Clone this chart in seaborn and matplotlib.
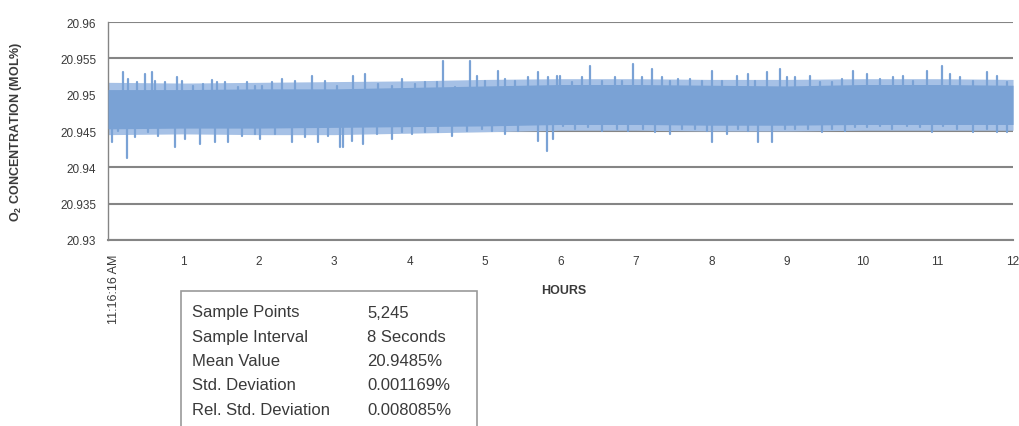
import matplotlib
matplotlib.use("Agg")
import matplotlib.pyplot as plt
import matplotlib.patches as mpatches
import numpy as np
import pandas as pd
import seaborn as sns

# Oxygen concentration record, 12 hours from 11:16:16 AM (8 s sampling)
band_hours = [0, 1, 2, 3, 4, 5, 6, 7, 8, 9, 10, 11, 12]
band_top = [20.9507, 20.9507, 20.9508, 20.9508, 20.9510, 20.9512, 20.9514,
            20.9514, 20.9513, 20.9512, 20.9514, 20.9514, 20.9513]
band_bottom = [20.9453, 20.9454, 20.9454, 20.9455, 20.9456, 20.9457, 20.9459,
               20.9459, 20.9458, 20.9458, 20.9459, 20.9459, 20.9459]
# typical outer reach of the scatter around the core
fringe_top = [20.9517, 20.9516, 20.9517, 20.9518, 20.9519, 20.9521, 20.9522,
              20.9522, 20.9521, 20.9521, 20.9522, 20.9522, 20.9521]
fringe_bottom = [20.9445, 20.9446, 20.9445, 20.9445, 20.9447, 20.9449, 20.9451,
                 20.9451, 20.9450, 20.9450, 20.9451, 20.9451, 20.9451]

peak_hours = [0.20, 0.27, 0.38, 0.49, 0.58, 0.62, 0.76, 0.91, 0.98, 1.13, 1.26,
              1.38, 1.45, 1.55, 1.72, 1.84, 1.95,
              2.04, 2.17, 2.31, 2.48, 2.70, 2.88, 3.04, 3.25, 3.41, 3.58, 3.77, 3.90,
              4.07, 4.20, 4.36, 4.44, 4.60, 4.80, 4.89, 5.00, 5.17, 5.26, 5.40, 5.57,
              5.70, 5.83, 5.95,
              5.99, 6.15, 6.28, 6.39, 6.55, 6.72, 6.82, 6.96, 7.08, 7.21, 7.35, 7.45,
              7.56, 7.72, 7.88,
              8.01, 8.14, 8.34, 8.49, 8.58, 8.74, 8.91, 9.00, 9.11, 9.31, 9.44, 9.60,
              9.73, 9.88,
              10.06, 10.24, 10.41, 10.54, 10.67, 10.86, 11.06, 11.16, 11.30, 11.47,
              11.65, 11.79, 11.92]
peak_values = [20.9531, 20.9522, 20.9517, 20.9528, 20.9531, 20.9519, 20.9517,
               20.9524, 20.9519, 20.9512, 20.9515, 20.9520, 20.9517, 20.9517,
               20.9511, 20.9517, 20.9512,
               20.9512, 20.9517, 20.9522, 20.9519, 20.9526, 20.9519, 20.9512,
               20.9526, 20.9528, 20.9515, 20.9512, 20.9522,
               20.9515, 20.9517, 20.9517, 20.9546, 20.9511, 20.9546, 20.9526,
               20.9519, 20.9533, 20.9522, 20.9519, 20.9524,
               20.9531, 20.9524, 20.9526,
               20.9526, 20.9517, 20.9524, 20.9539, 20.9519, 20.9524, 20.9519,
               20.9542, 20.9524, 20.9535, 20.9524, 20.9519, 20.9522, 20.9522,
               20.9519,
               20.9533, 20.9519, 20.9526, 20.9528, 20.9519, 20.9531, 20.9535,
               20.9524, 20.9524, 20.9526, 20.9517, 20.9517, 20.9522, 20.9533,
               20.9528, 20.9522, 20.9524, 20.9526, 20.9519, 20.9533, 20.9540,
               20.9528, 20.9524, 20.9519, 20.9531, 20.9526, 20.9517]

dip_hours = [0.05, 0.13, 0.25, 0.36, 0.53, 0.66, 0.89, 1.02, 1.22, 1.42, 1.59, 1.78,
             1.95,
             2.02, 2.21, 2.44, 2.61, 2.78, 2.92, 3.08, 3.12, 3.24, 3.38, 3.57, 3.77,
             3.90,
             4.03, 4.20, 4.38, 4.56, 4.76, 4.96, 5.09, 5.26, 5.44, 5.70, 5.82, 5.90,
             6.03, 6.19, 6.36, 6.55, 6.75, 6.89, 7.09, 7.25, 7.45, 7.61, 7.78, 7.94,
             8.01, 8.21, 8.35, 8.49, 8.62, 8.80, 8.98, 9.11, 9.28, 9.47, 9.60, 9.77,
             9.90,
             10.06, 10.24, 10.40, 10.59, 10.77, 10.93, 11.07, 11.26, 11.47, 11.65,
             11.79, 11.92]
dip_values = [20.9435, 20.9450, 20.9413, 20.9442, 20.9449, 20.9443, 20.9428,
              20.9439, 20.9432, 20.9435, 20.9435, 20.9443, 20.9446,
              20.9439, 20.9446, 20.9435, 20.9442, 20.9435, 20.9443, 20.9428,
              20.9428, 20.9436, 20.9432, 20.9446, 20.9439, 20.9449,
              20.9446, 20.9449, 20.9449, 20.9443, 20.9450, 20.9453, 20.9450,
              20.9446, 20.9450, 20.9436, 20.9422, 20.9439,
              20.9457, 20.9453, 20.9456, 20.9450, 20.9453, 20.9450, 20.9453,
              20.9449, 20.9446, 20.9453, 20.9453, 20.9450,
              20.9435, 20.9446, 20.9453, 20.9450, 20.9435, 20.9435, 20.9453,
              20.9453, 20.9453, 20.9449, 20.9453, 20.9450, 20.9456,
              20.9456, 20.9457, 20.9453, 20.9457, 20.9456, 20.9449, 20.9457,
              20.9453, 20.9449, 20.9453, 20.9449, 20.9449]

mean_value = 20.9485
start_label = "11:16:16 AM"
x_ticks = [0, 1, 2, 3, 4, 5, 6, 7, 8, 9, 10, 11, 12]
x_tick_labels = ["", "1", "2", "3", "4", "5", "6", "7", "8", "9",
                 "10", "11", "12"]
y_ticks = [20.93, 20.935, 20.94, 20.945, 20.95, 20.955, 20.96]
y_tick_labels = ["20.93", "20.935", "20.94", "20.945", "20.95", "20.955", "20.96"]

stats_names = ["Sample Points", "Sample Interval", "Mean Value",
               "Std. Deviation", "Rel. Std. Deviation"]
stats_values = ["5,245", "8 Seconds", "20.9485%", "0.001169%", "0.008085%"]

sns.set_theme(style="white")
plt.rcParams["font.family"] = ["Liberation Sans", "DejaVu Sans"]
plt.rcParams["mathtext.default"] = "regular"

line_color = "#7aa2d5"
fringe_color = "#a6c1e6"
grid_color = "#858585"
text_color = "#3a3a3a"

fig = plt.figure(figsize=(10.2, 4.27), dpi=100)
ax = fig.add_axes([0.1059, 0.4356, 0.8873, 0.5105])

# scattered outer fringe and dense core of the trace
ax.fill_between(band_hours, fringe_bottom, fringe_top, color=fringe_color, lw=0,
                zorder=2.5)
ax.fill_between(band_hours, band_bottom, band_top, color=line_color, lw=0,
                zorder=3)

# individual excursions drawn from the mean level out to each tip
rows = []
for i, (h, v) in enumerate(zip(peak_hours + dip_hours, peak_values + dip_values)):
    rows.append({"hours": h, "o2": mean_value, "spike": i})
    rows.append({"hours": h, "o2": v, "spike": i})
spikes = pd.DataFrame(rows)
sns.lineplot(data=spikes, x="hours", y="o2", units="spike", estimator=None,
             sort=False, color=line_color, lw=1.6, ax=ax, zorder=4)

ax.set_xlim(0, 12)
ax.set_ylim(20.93, 20.96)
ax.set_yticks(y_ticks)
ax.set_yticklabels(y_tick_labels)
ax.set_xticks(x_ticks)
ax.set_xticklabels(x_tick_labels)

# start time written vertically under the first tick
ax.annotate(start_label, xy=(x_ticks[0], 0), xycoords=("data", "axes fraction"),
            xytext=(4, -10), textcoords="offset points", rotation=90,
            ha="center", va="top", fontsize=9, color=text_color)

ax.grid(axis="y", color=grid_color, lw=1.5, zorder=1)
ax.set_axisbelow(True)
for s in ["top", "right"]:
    ax.spines[s].set_visible(False)
ax.spines["left"].set_color(grid_color)
ax.spines["left"].set_linewidth(1.0)
ax.spines["bottom"].set_color(grid_color)
ax.spines["bottom"].set_linewidth(1.5)
ax.tick_params(axis="both", which="major", direction="inout", length=5,
               width=1, color=grid_color, labelsize=8.5, labelcolor=text_color)
ax.tick_params(axis="x", pad=8)
ax.tick_params(axis="y", pad=6)

ax.set_xlabel("HOURS", fontsize=9, fontweight="bold", color=text_color)
ax.xaxis.set_label_coords(0.503, -0.202)
ax.set_ylabel("O$_2$ CONCENTRATION (MOL%)", fontsize=9, fontweight="bold",
              color=text_color)
ax.yaxis.set_label_coords(-0.093, 0.5)

# summary statistics box
fig.patches.append(mpatches.Rectangle((181 / 1020, -0.05), 296 / 1020,
                                      0.05 + (1 - 292 / 427),
                                      transform=fig.transFigure, fill=False,
                                      edgecolor="#9a9a9a", lw=1.2))
row_y = [313, 338, 362, 386, 411]
for name, val, y in zip(stats_names, stats_values, row_y):
    fig.text(192 / 1020, 1 - y / 427, name, fontsize=12, color=text_color,
             va="center", ha="left")
    fig.text(367 / 1020, 1 - y / 427, val, fontsize=12, color=text_color,
             va="center", ha="left")

fig.savefig("out.png", dpi=100)
